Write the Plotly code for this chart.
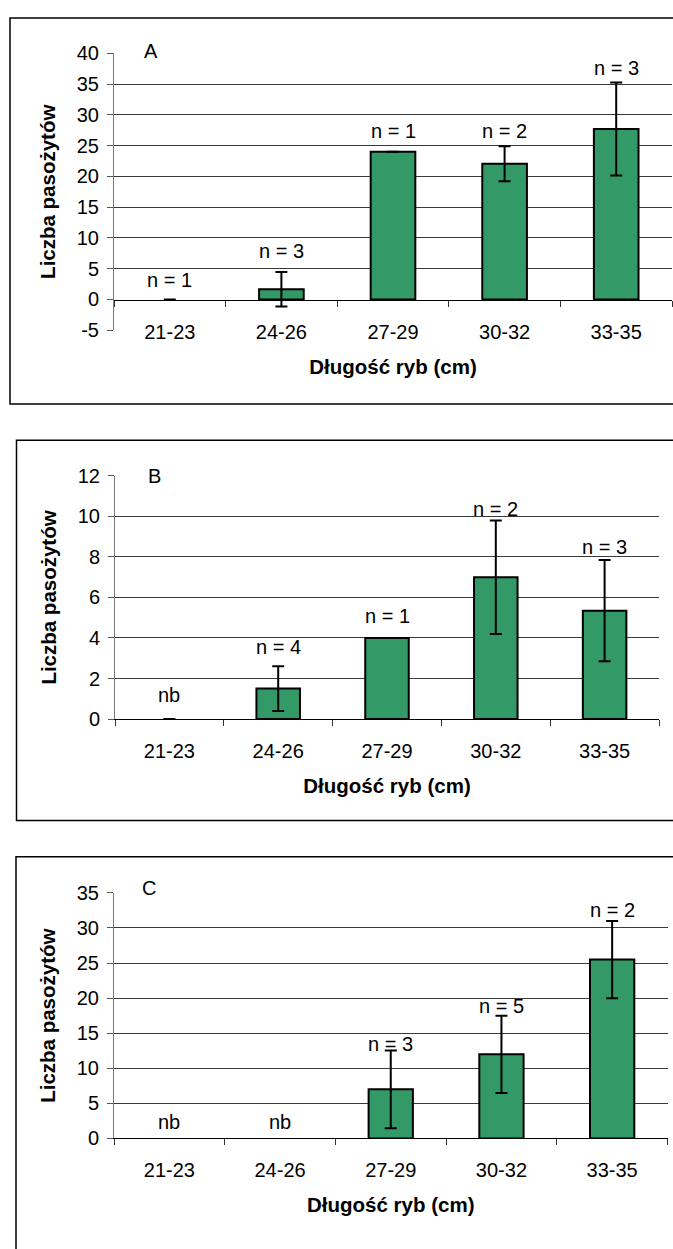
import plotly.graph_objects as go

# ---------------- data ----------------
categories = ["21-23", "24-26", "27-29", "30-32", "33-35"]

a_mean = [0, 1.68, 24, 22.05, 27.7]
a_err = [0, 2.8, 0, 2.85, 7.55]
a_n = ["n = 1", "n = 3", "n = 1", "n = 2", "n = 3"]
a_label_y = [3.2, 7.8, 27.4, 27.4, 37.6]
a_yticks = [-5, 0, 5, 10, 15, 20, 25, 30, 35, 40]

b_mean = [0, 1.5, 4, 7, 5.35]
b_err = [0, 1.1, 0, 2.8, 2.5]
b_n = ["nb", "n = 4", "n = 1", "n = 2", "n = 3"]
b_label_y = [1.2, 3.57, 5.09, 10.38, 8.49]
b_yticks = [0, 2, 4, 6, 8, 10, 12]

c_mean = [None, None, 7, 12, 25.5]
c_err = [None, None, 5.55, 5.5, 5.5]
c_n = ["nb", "nb", "n = 3", "n = 5", "n = 2"]
c_label_y = [2.4, 2.4, 13.4, 18.9, 32.5]
c_yticks = [0, 5, 10, 15, 20, 25, 30, 35]

y_title = "Liczba pasożytów"
x_title = "Długość ryb (cm)"
panel_letters = ["A", "B", "C"]

# ---------------- layout geometry (pixels) ----------------
W, H = 673, 1249
def px(x):
    return x / W
def py(y):
    return 1 - y / H

FONT = "Liberation Sans, Arial, Helvetica, sans-serif"
BAR_COLOR = "#339966"
GRID_COLOR = "#3a3a3a"

panels = [
    dict(mean=a_mean, err=a_err, labels=a_n, label_y=a_label_y, yticks=a_yticks,
         xpx=(114, 672), ypx=(43, 325), rng=(-5, 40),
         zero_px=294.3,
         frame=(10, 7, 700, 400), letter_px=(151, 41)),
    dict(mean=b_mean, err=b_err, labels=b_n, label_y=b_label_y, yticks=b_yticks,
         xpx=(115, 659), ypx=(473.3, 720.7), rng=(0, 12),
         zero_px=None,
         frame=(16.5, 437, 700, 824), letter_px=(154, 473)),
    dict(mean=c_mean, err=c_err, labels=c_n, label_y=c_label_y, yticks=c_yticks,
         xpx=(114, 667.5), ypx=(897.7, 1147.7), rng=(0, 35),
         zero_px=None,
         frame=(16, 861, 700, 1300), letter_px=(149, 893)),
]

fig = go.Figure()
layout = dict(
    width=W, height=H,
    margin=dict(l=0, r=0, t=0, b=0),
    paper_bgcolor="white", plot_bgcolor="rgba(0,0,0,0)",
    showlegend=False, bargap=0.6,
    font=dict(family=FONT, size=20, color="black"),
)
annotations = []
shapes = []

for i, p in enumerate(panels):
    k = i + 1
    xs = "" if k == 1 else str(k)
    xname, yname = "x" + xs, "y" + xs
    gname = "y" + str(k + 3)

    # zero-height bars are not outlined (only the error cap shows)
    outline = [0 if (v is None or v == 0) else 2 for v in p["mean"]]

    fig.add_trace(go.Bar(
        x=categories, y=p["mean"], xaxis=xname, yaxis=yname,
        marker=dict(color=BAR_COLOR, line=dict(color="black", width=outline)),
        error_y=dict(type="data", array=p["err"], visible=True,
                     color="black", thickness=2, width=6),
        hoverinfo="skip",
    ))
    fig.add_trace(go.Scatter(x=[], y=[], xaxis=xname, yaxis=gname,
                             showlegend=False, hoverinfo="skip"))

    xdom = [px(p["xpx"][0]), px(p["xpx"][1])]
    ydom = [py(p["ypx"][1]), py(p["ypx"][0])]
    ticks = p["yticks"]
    grid = [t for t in ticks if t > 0 and t < max(ticks)]

    xa = dict(
        type="category", categoryorder="array", categoryarray=categories,
        range=[-0.5, 4.5], domain=xdom,
        showline=True, linecolor="black", linewidth=1,
        ticks="outside", tickson="boundaries", ticklen=6, tickcolor="#333",
        showgrid=False, zeroline=False, fixedrange=True,
        tickfont=dict(size=20, family=FONT, color="black"),
        ticklabelstandoff=14,
        title=dict(text=x_title, font=dict(size=20.5, family=FONT, weight="bold"),
                   standoff=17),
    )
    if p["zero_px"] is not None:
        xa.update(anchor="free", position=py(p["zero_px"]))
    else:
        xa.update(anchor=yname)
    layout["xaxis" + xs] = xa

    layout["yaxis" + xs] = dict(
        domain=ydom, anchor=xname, range=list(p["rng"]),
        tickmode="array", tickvals=ticks, ticktext=[str(t) for t in ticks],
        showline=True, linecolor="#7a7a7a", linewidth=1,
        ticks="outside", ticklen=6, tickcolor="#555",
        showgrid=False, zeroline=False, fixedrange=True,
        tickfont=dict(size=20, family=FONT, color="black"),
        ticklabelstandoff=4,
        title=dict(text=y_title, font=dict(size=20.5, family=FONT, weight="bold"),
                   standoff=15),
    )
    layout["yaxis" + str(k + 3)] = dict(
        overlaying=yname, anchor=xname, range=list(p["rng"]),
        tickmode="array", tickvals=grid,
        showgrid=True, gridcolor=GRID_COLOR, gridwidth=1,
        showticklabels=False, ticks="", showline=False, zeroline=False,
        fixedrange=True,
    )

    for cat, txt, ly in zip(categories, p["labels"], p["label_y"]):
        annotations.append(dict(
            x=cat, y=ly, xref=xname, yref=yname, text=txt, showarrow=False,
            xanchor="center", yanchor="middle",
            font=dict(size=20, family=FONT, color="black"),
        ))

    lx, ly_ = p["letter_px"]
    annotations.append(dict(
        x=px(lx), y=py(ly_), xref="paper", yref="paper", text=panel_letters[i],
        showarrow=False, xanchor="center", yanchor="middle",
        font=dict(size=20, family=FONT, color="black"),
    ))

    fx0, fy0, fx1, fy1 = p["frame"]
    shapes.append(dict(
        type="rect", xref="paper", yref="paper",
        x0=px(fx0), x1=px(fx1), y0=py(fy1), y1=py(fy0),
        line=dict(color="black", width=1.5), fillcolor="rgba(0,0,0,0)",
        layer="below",
    ))

layout["annotations"] = annotations
layout["shapes"] = shapes
fig.update_layout(**layout)
fig.write_html("out.html", config={"displayModeBar": False, "staticPlot": True},
               post_script="document.body.style.margin='0';")
